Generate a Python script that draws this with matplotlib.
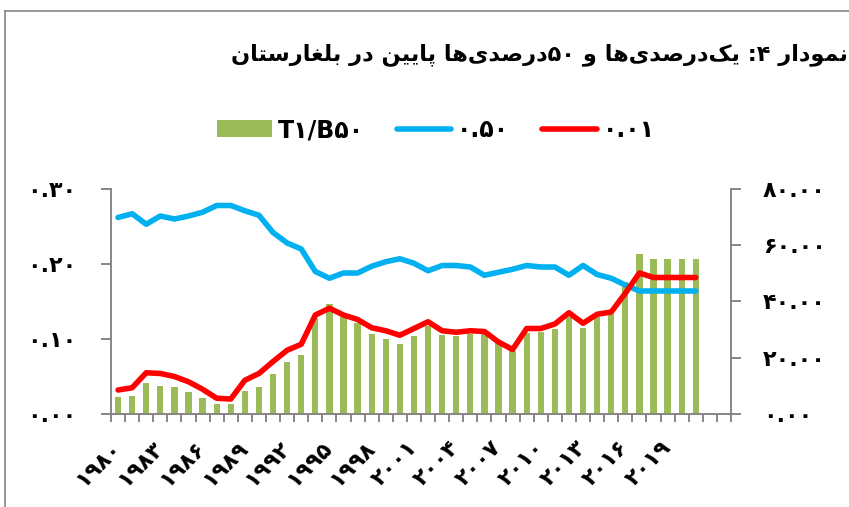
import re
import matplotlib
matplotlib.use("Agg")
import matplotlib.pyplot as plt
from matplotlib.patches import Patch
from matplotlib.lines import Line2D
import numpy as np

# ---------------- data ----------------
years = list(range(1980, 2022))
ratio_t1_b50 = [6.0, 6.4, 10.9, 10.1, 9.5, 7.8, 5.8, 3.5, 3.4, 8.0,
                9.6, 14.1, 18.6, 21.1, 34.1, 39.1, 34.6, 32.3, 28.4, 26.6,
                24.8, 27.8, 31.4, 28.0, 27.6, 28.3, 28.4, 25.1, 22.5, 28.7,
                29.0, 30.3, 34.6, 30.6, 34.6, 35.6, 47.0, 56.9, 55.0, 55.0,
                55.1, 55.1]
bottom50 = [0.262, 0.267, 0.253, 0.264, 0.260, 0.264, 0.269, 0.278, 0.278, 0.271,
            0.265, 0.242, 0.228, 0.220, 0.190, 0.181, 0.188, 0.188, 0.197, 0.203,
            0.207, 0.201, 0.191, 0.198, 0.198, 0.196, 0.185, 0.189, 0.193, 0.198,
            0.196, 0.196, 0.185, 0.198, 0.186, 0.181, 0.172, 0.164, 0.164, 0.164,
            0.164, 0.164]
top1 = [0.032, 0.035, 0.055, 0.054, 0.050, 0.043, 0.033, 0.021, 0.020, 0.045,
        0.054, 0.070, 0.085, 0.093, 0.132, 0.141, 0.132, 0.126, 0.115, 0.111,
        0.105, 0.114, 0.123, 0.111, 0.109, 0.111, 0.110, 0.096, 0.086, 0.114,
        0.114, 0.120, 0.135, 0.121, 0.133, 0.136, 0.161, 0.188, 0.182, 0.182,
        0.182, 0.182]
n_slots = 44                      # axis has two empty category slots after 2021
label_years = list(range(1980, 2020, 3))
left_ticks = [0.0, 0.1, 0.2, 0.3]
right_ticks = [0, 20, 40, 60, 80]

title_text = "نمودار ۴: یک\u200cدرصدی\u200cها و ۵۰درصدی\u200cها پایین در بلغارستان"
legend_labels = ["T۱/B۵۰", "۰.۵۰", "۰.۰۱"]

# ---------------- Persian helpers ----------------
FA = str.maketrans("0123456789", "۰۱۲۳۴۵۶۷۸۹")

FORMS = {
    '\u0627': ('\uFE8D', '\uFE8E', None, None),
    '\u0628': ('\uFE8F', '\uFE90', '\uFE91', '\uFE92'),
    '\u067E': ('\uFB56', '\uFB57', '\uFB58', '\uFB59'),
    '\u062A': ('\uFE95', '\uFE96', '\uFE97', '\uFE98'),
    '\u062F': ('\uFEA9', '\uFEAA', None, None),
    '\u0631': ('\uFEAD', '\uFEAE', None, None),
    '\u0632': ('\uFEAF', '\uFEB0', None, None),
    '\u0633': ('\uFEB1', '\uFEB2', '\uFEB3', '\uFEB4'),
    '\u0635': ('\uFEB9', '\uFEBA', '\uFEBB', '\uFEBC'),
    '\u063A': ('\uFECD', '\uFECE', '\uFECF', '\uFED0'),
    '\u06A9': ('\uFB8E', '\uFB8F', '\uFB90', '\uFB91'),
    '\u0644': ('\uFEDD', '\uFEDE', '\uFEDF', '\uFEE0'),
    '\u0645': ('\uFEE1', '\uFEE2', '\uFEE3', '\uFEE4'),
    '\u0646': ('\uFEE5', '\uFEE6', '\uFEE7', '\uFEE8'),
    '\u0647': ('\uFEE9', '\uFEEA', '\uFEEB', '\uFEEC'),
    '\u0648': ('\uFEED', '\uFEEE', None, None),
    '\u06CC': ('\uFBFC', '\uFBFD', '\uFBFE', '\uFBFF'),
}


def shape(s):
    s = s.replace('\u064A', '\u06CC').replace('\u0643', '\u06A9')
    ch = list(s)
    out = []
    for i, c in enumerate(ch):
        if c not in FORMS:
            out.append(c)
            continue
        f = FORMS[c]
        prev = ch[i - 1] if i > 0 else None
        nxt = ch[i + 1] if i < len(ch) - 1 else None
        jp = prev in FORMS and FORMS[prev][2] is not None
        jn = f[2] is not None and nxt in FORMS
        if jp and jn:
            out.append(f[3])
        elif jp:
            out.append(f[1])
        elif jn:
            out.append(f[2])
        else:
            out.append(f[0])
    return ''.join(out).replace('\u200c', '')


def rtl(s):
    s = shape(s)
    toks = re.findall(r'[0-9\u06F0-\u06F9]+(?:\.[0-9\u06F0-\u06F9]+)*|.', s)
    return ''.join(reversed(toks))


# ---------------- style ----------------
W, H = 849, 507
GREEN = "#9BBB59"
BLUE = "#00B0F0"
RED = "#FF0000"
GRAY = "#868686"
FONT = ["DejaVu Sans"]
FS = 16

fig = plt.figure(figsize=(W / 100, H / 100), dpi=100)
ax = fig.add_axes([111 / W, 1 - 414 / H, 620 / W, 225 / H])
ax2 = ax.twinx()

x = np.arange(len(years))

# bars on the secondary (right) axis
ax2.bar(x, ratio_t1_b50, width=0.44, color=GREEN, zorder=1)
ax2.set_ylim(0, 80)

# lines on the primary (left) axis, drawn on top
ax.plot(x, bottom50, color=BLUE, lw=4, solid_capstyle='round', solid_joinstyle='round', zorder=3)
ax.plot(x, top1, color=RED, lw=4, solid_capstyle='round', solid_joinstyle='round', zorder=4)
ax.set_ylim(0, 0.30)
ax.set_xlim(-0.5, n_slots - 0.5)
ax.set_zorder(ax2.get_zorder() + 1)
ax.patch.set_visible(False)

for a in (ax, ax2):
    for s in a.spines.values():
        s.set_color(GRAY)
        s.set_linewidth(1.4)
    a.spines['top'].set_visible(False)
ax.spines['right'].set_visible(False)
ax2.spines['left'].set_visible(False)
ax2.spines['bottom'].set_visible(False)

# left y ticks
ax.set_yticks(left_ticks)
ax.set_yticklabels([f"{v:.2f}".translate(FA) for v in left_ticks],
                   fontfamily=FONT, fontweight='bold', fontsize=FS)
ax.tick_params(axis='y', direction='out', length=7, width=1.4, color=GRAY, pad=18)

# right y ticks
ax2.set_yticks(right_ticks)
ax2.set_yticklabels([f"{v:.2f}".translate(FA) for v in right_ticks],
                    fontfamily=FONT, fontweight='bold', fontsize=FS)
ax2.tick_params(axis='y', direction='out', length=7, width=1.4, color=GRAY, pad=16)

# x ticks: boundaries as minor ticks, labels at category centres
ax.set_xticks(np.arange(-0.5, n_slots, 1.0), minor=True)
ax.tick_params(axis='x', which='minor', direction='out', length=6, width=1.4, color=GRAY)
lab_pos = [years.index(y) for y in label_years]
ax.set_xticks(lab_pos)
ax.set_xticklabels([str(y).translate(FA) for y in label_years],
                   fontfamily=FONT, fontweight='bold', fontsize=FS,
                   rotation=45, ha='right', va='center', rotation_mode='anchor')
ax.tick_params(axis='x', which='major', length=0, pad=22)

# legend
handles = [Patch(facecolor=GREEN, edgecolor='none'),
           Line2D([0], [0], color=BLUE, lw=4, solid_capstyle='round'),
           Line2D([0], [0], color=RED, lw=4, solid_capstyle='round')]
fig.legend(handles, legend_labels, loc='center', bbox_to_anchor=(436 / W, 1 - 130 / H),
           ncol=3, frameon=False, prop=dict(family=FONT, weight='bold', size=17),
           handlelength=2.3, handleheight=0.75, handletextpad=0.25, columnspacing=1.4)

# title
fig.text(848 / W, 1 - 55 / H, rtl(title_text), ha='right', va='center',
         fontfamily=FONT, fontweight='bold', fontsize=16.2)

# chart-area frame (left and top edges visible)
fig.add_artist(Line2D([4.5 / W, 4.5 / W], [0, 1 - 11 / H], transform=fig.transFigure,
                      color=GRAY, lw=1.2))
fig.add_artist(Line2D([4.5 / W, 1], [1 - 11 / H, 1 - 11 / H], transform=fig.transFigure,
                      color=GRAY, lw=1.2))

fig.savefig("out.png", dpi=100)
